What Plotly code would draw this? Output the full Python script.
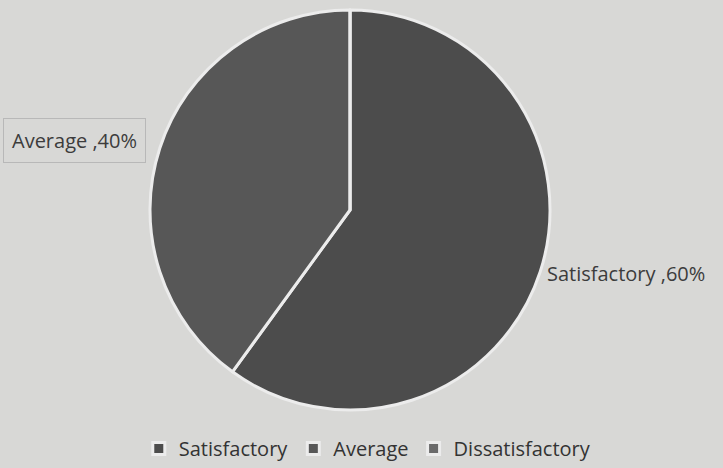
import plotly.graph_objects as go

# Survey satisfaction shares
categories = ["Satisfactory", "Average", "Dissatisfactory"]
shares = [60, 40, 0]
slice_colors = ["#4c4c4c", "#575757", "#6a6a6a"]

label_font = dict(family="Open Sans, sans-serif", size=20, color="#3c3c3c")

# Outside slice label only for the first slice; the boxed one is an annotation
labels_text = [f"{categories[0]} ,{shares[0]}%", "", ""]
boxed_label = f"{categories[1]} ,{shares[1]}%"

W, H = 723, 468

fig = go.Figure(
    go.Pie(
        labels=categories,
        values=shares,
        sort=False,
        direction="clockwise",
        rotation=0,
        text=labels_text,
        textinfo="text",
        textposition="outside",
        outsidetextfont=label_font,
        marker=dict(colors=slice_colors, line=dict(color="#ececec", width=3)),
        domain=dict(x=[150 / W, 550 / W], y=[1 - 410 / H, 1 - 10 / H]),
        showlegend=True,
        hoverinfo="label+percent",
    )
)

fig.add_annotation(
    text=boxed_label,
    xref="paper", yref="paper",
    x=3 / W, y=1 - 140 / H,
    xanchor="left", yanchor="middle",
    showarrow=False,
    font=label_font,
    bordercolor="#b8b8b8",
    borderwidth=1,
    borderpad=8,
)

fig.update_layout(
    width=W,
    height=H,
    margin=dict(l=0, r=0, t=0, b=0),
    paper_bgcolor="#d8d8d6",
    plot_bgcolor="#d8d8d6",
    legend=dict(
        orientation="h",
        x=0.508,
        xanchor="center",
        y=0.0,
        yanchor="bottom",
        font=dict(family="Open Sans, sans-serif", size=20, color="#333333"),
        itemwidth=30,
    ),
)

fig.write_html("out.html")
